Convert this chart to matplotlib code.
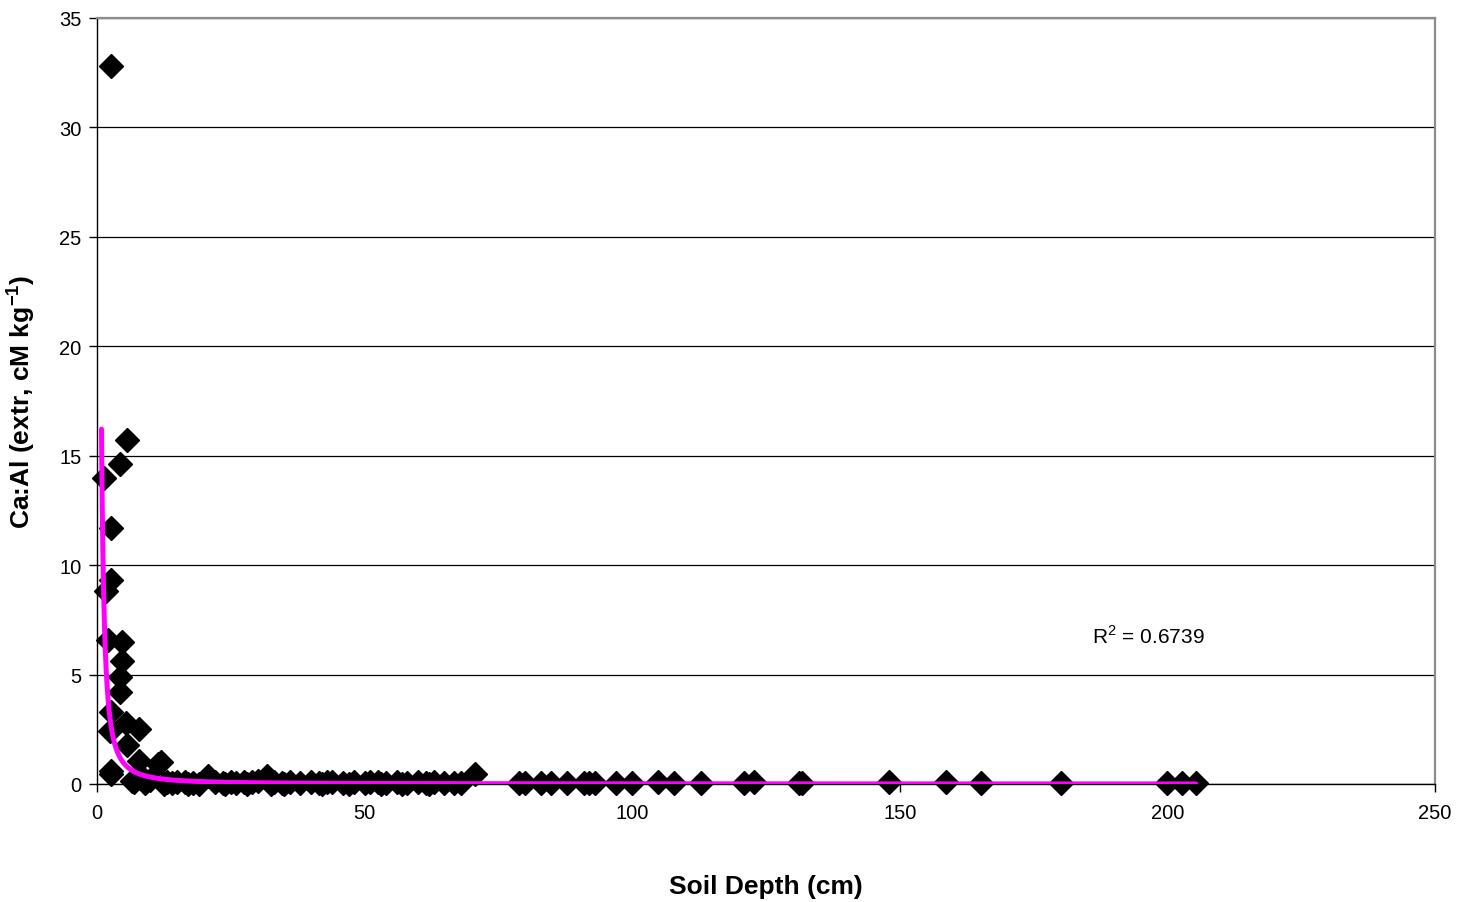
import matplotlib
matplotlib.use("Agg")
import matplotlib.pyplot as plt
import numpy as np

plt.rcParams['font.family'] = ['Liberation Sans', 'DejaVu Sans']
plt.rcParams['mathtext.fontset'] = 'custom'
plt.rcParams['mathtext.rm'] = 'Liberation Sans'
plt.rcParams['mathtext.bf'] = 'Liberation Sans:bold'

# Observed data (soil depth in cm, Ca:Al ratio)
depth = [2.7, 5.7, 4.4, 1.4, 2.7, 2.7, 1.7, 2.1, 4.6, 4.6, 4.4, 4.4,
         2.7, 2.5, 5.5, 7.8, 5.6, 2.7, 2.6, 7.8, 11.9, 11.5, 8.5, 10.0,
         6.5, 7.0, 9.0, 13.0, 14.0, 15.0, 16.5, 18.0, 20.8, 22.0, 23.5, 25.0,
         26.0, 27.5, 29.0, 30.0, 31.7, 33.0, 34.5, 36.0, 38.0, 40.0, 41.5, 43.0,
         44.0, 46.0, 48.0, 50.0, 51.0, 52.5, 54.0, 56.0, 58.0, 60.0, 61.5, 63.0,
         64.8, 66.7, 68.0, 70.7, 78.8, 79.9, 82.9, 84.8, 87.8, 91.0, 91.9, 93.0,
         96.9, 99.9, 104.8, 107.8, 112.8, 120.8, 122.7, 131.2, 131.8, 147.9, 158.6, 165.1,
         180.1, 200.0, 202.7, 205.3, 24.0, 28.0, 35.0, 42.0, 47.0, 53.0, 57.0, 62.0,
         12.5, 17.0, 19.0, 32.5]
ratio = [32.8, 15.7, 14.6, 14.0, 11.7, 9.3, 8.8, 6.6, 6.5, 5.6, 4.9, 4.2,
         3.3, 2.4, 2.8, 2.5, 1.8, 0.6, 0.45, 1.05, 1.0, 0.9, 0.3, 0.2,
         0.15, 0.1, 0.05, 0.1, 0.05, 0.08, 0.1, 0.05, 0.35, 0.1, 0.05, 0.1,
         0.05, 0.08, 0.1, 0.15, 0.35, 0.1, 0.05, 0.08, 0.05, 0.1, 0.05, 0.1,
         0.08, 0.05, 0.1, 0.05, 0.1, 0.08, 0.05, 0.1, 0.05, 0.1, 0.05, 0.1,
         0.05, 0.05, 0.05, 0.45, 0.05, 0.05, 0.05, 0.05, 0.05, 0.05, 0.05, 0.05,
         0.05, 0.05, 0.08, 0.05, 0.05, 0.05, 0.08, 0.05, 0.05, 0.08, 0.08, 0.05,
         0.05, 0.05, 0.05, 0.05, 0.0, 0.0, 0.0, 0.0, 0.0, 0.0, 0.0, 0.0,
         0.0, 0.0, 0.0, 0.0]

# Power trendline y = a * x^b
trend_a = 12.5
trend_b = -1.6
trend_start = 0.85
trend_end = 205.3
r_squared = "0.6739"

xticks = [0, 50, 100, 150, 200, 250]
yticks = [0, 5, 10, 15, 20, 25, 30, 35]

fig = plt.figure(figsize=(14.6, 9.03), dpi=100)
ax = fig.add_axes([0.0664, 0.1307, 0.9165, 0.8483])

ax.set_xlim(0, 250)
ax.set_ylim(0, 35)
ax.set_xticks(xticks)
ax.set_yticks(yticks)
ax.tick_params(axis='both', direction='out', length=6, width=1, labelsize=14.5, colors='black')
ax.tick_params(axis='y', pad=5)
ax.tick_params(axis='x', pad=8)

ax.yaxis.grid(True, color='black', linewidth=0.9)
ax.set_axisbelow(True)

for s in ['top', 'right']:
    ax.spines[s].set_color('#8c8c8c')
    ax.spines[s].set_linewidth(1.6)
for s in ['left', 'bottom']:
    ax.spines[s].set_color('black')
    ax.spines[s].set_linewidth(1.0)

ax.plot(depth, ratio, linestyle='none', marker='D', markersize=12.5,
        color='black', markeredgecolor='black', zorder=3, clip_on=False)

xt = np.geomspace(trend_start, trend_end, 400)
ax.plot(xt, trend_a * xt ** trend_b, color='#ff00ff', linewidth=3.6, zorder=4,
        solid_capstyle='round')

ax.text(186.0, 6.8, r"R$^2$ = " + r_squared, fontsize=15, va='center', ha='left')

ax.set_xlabel("Soil Depth (cm)", fontsize=19, fontweight='bold', labelpad=37)
ax.set_ylabel(r"Ca:Al (extr, cM kg$^{\mathbf{-1}}$)", fontsize=19, fontweight='bold', labelpad=16)

fig.savefig("out.png", dpi=100)
